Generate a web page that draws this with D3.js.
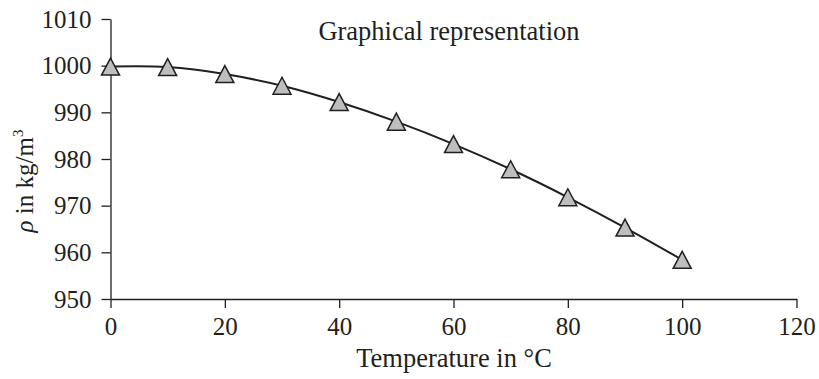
<!DOCTYPE html>
<meta charset="utf-8">
<style>
body { margin: 0; background: #fff; }
svg { font-family: "Liberation Serif", "Times New Roman", serif; }
.axis path, .axis line { stroke: #231f20; stroke-width: 1.3px; }
.axis text { font-family: "Liberation Serif", serif !important; font-size: 25px; fill: #231f20; }
.lbl { font-size: 26.5px; fill: #231f20; }
</style>
<body>
<script src="https://cdn.jsdelivr.net/npm/d3@7"></script>
<script>
var temps = [0, 10, 20, 30, 40, 50, 60, 70, 80, 90, 100];
var density = [999.8, 999.7, 998.2, 995.7, 992.2, 988.0, 983.2, 977.8, 971.8, 965.3, 958.4];
var xTicks = [0, 20, 40, 60, 80, 100, 120];
var yTicks = [950, 960, 970, 980, 990, 1000, 1010];

var w = 819, h = 379;

var x = d3.scaleLinear().domain([0, 120]).range([110.5, 796.5]),
    y = d3.scaleLinear().domain([950, 1010]).range([299, 19]);

var svg = d3.select("body").append("svg")
    .attr("width", w)
    .attr("height", h);

/* axes */
var gx = svg.append("g")
    .attr("class", "axis")
    .attr("transform", "translate(0,299)")
    .call(d3.axisBottom(x).tickValues(xTicks).tickFormat(d3.format("d"))
      .tickSizeInner(9).tickSizeOuter(0).tickPadding(9));

var gy = svg.append("g")
    .attr("class", "axis")
    .attr("transform", "translate(110.5,0)")
    .call(d3.axisLeft(y).tickValues(yTicks).tickFormat(d3.format("d"))
      .tickSizeInner(9).tickSizeOuter(0).tickPadding(10));

[gx, gy].forEach(function(g) {
  g.attr("font-family", null).attr("font-size", null);
  g.selectAll("text")
    .style("font-family", "'Liberation Serif', serif")
    .style("font-size", "25px");
});

var data = temps.map(function(t, i) { return {t: t, v: density[i]}; });

/* curve */
var line = d3.line()
    .x(function(d) { return x(d.t); })
    .y(function(d) { return y(d.v); })
    .curve(d3.curveNatural);

svg.append("path")
    .datum(data)
    .attr("fill", "none")
    .attr("stroke", "#231f20")
    .attr("stroke-width", 2)
    .attr("d", line);

/* triangle markers */
svg.selectAll("path.marker")
    .data(data)
  .enter().append("path")
    .attr("class", "marker")
    .attr("d", "M0,-8.5L9,8.5L-9,8.5Z")
    .attr("transform", function(d) { return "translate(" + x(d.t) + "," + y(d.v) + ")"; })
    .attr("fill", "#bcbec0")
    .attr("stroke", "#231f20")
    .attr("stroke-width", 1.5);

/* labels */
svg.append("text")
    .attr("class", "lbl")
    .attr("x", 449)
    .attr("y", 40)
    .attr("text-anchor", "middle")
    .text("Graphical representation");

svg.append("text")
    .attr("class", "lbl")
    .attr("x", 454)
    .attr("y", 367)
    .attr("text-anchor", "middle")
    .text("Temperature in °C");

var yl = svg.append("text")
    .attr("class", "lbl")
    .style("font-size", "25px")
    .attr("transform", "translate(33,181) rotate(-90)")
    .attr("text-anchor", "middle");
yl.append("tspan").attr("font-style", "italic").text("ρ");
yl.append("tspan").text(" in kg/m");
yl.append("tspan").attr("font-size", "15px").attr("dy", -10).text("3");
</script>
